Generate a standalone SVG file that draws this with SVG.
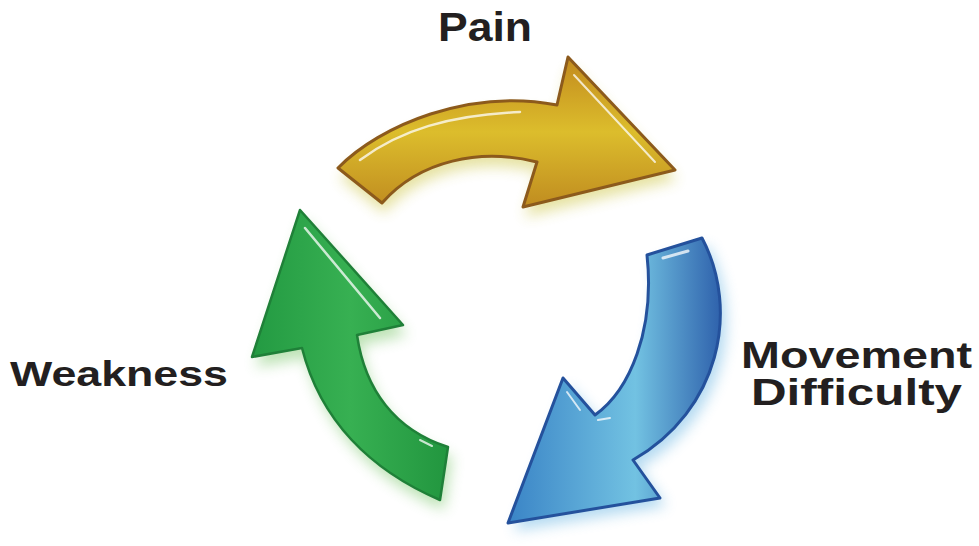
<svg xmlns="http://www.w3.org/2000/svg" width="979" height="546" viewBox="0 0 979 546">
  <style>
    .lbl { font-family: "Liberation Sans", Arial, sans-serif; font-weight: bold; fill: #231f20; }
    .hl { fill: none; stroke: #ffffff; stroke-linecap: round; stroke-opacity: 0.75; }
  </style>
  <defs>
    <filter id="glow" x="-30%" y="-30%" width="160%" height="160%">
      <feGaussianBlur stdDeviation="7"/>
    </filter>
    <linearGradient id="gY" x1="0" y1="0" x2="0" y2="1">
      <stop offset="0" stop-color="#c28a1e"/>
      <stop offset="0.5" stop-color="#dcbd2c"/>
      <stop offset="1" stop-color="#c08c20"/>
    </linearGradient>
    <linearGradient id="gB" x1="1" y1="0" x2="0" y2="0">
      <stop offset="0" stop-color="#2f62ac"/>
      <stop offset="0.4" stop-color="#72c2e2"/>
      <stop offset="1" stop-color="#3a84c6"/>
    </linearGradient>
    <linearGradient id="gG" x1="0" y1="0" x2="1" y2="0">
      <stop offset="0" stop-color="#239a42"/>
      <stop offset="0.5" stop-color="#37b052"/>
      <stop offset="1" stop-color="#22963f"/>
    </linearGradient>
  </defs>

  <g id="connectors">
    <g id="arrow-pain">
      <path d="M338,168 C380,125 470,88 557,105 L568,57 L675,170 L523,207 L537,162 C480,148 420,160 382,203 Z" fill="#c8c030" opacity="0.45" filter="url(#glow)" transform="translate(2,10)"/>
      <path d="M338,168 C380,125 470,88 557,105 L568,57 L675,170 L523,207 L537,162 C480,148 420,160 382,203 Z" fill="url(#gY)" stroke="#8c5a1c" stroke-width="3" stroke-linejoin="round"/>
      <path class="hl" d="M360,160 C400,130 450,115 520,112" stroke-width="2.5"/>
      <path class="hl" d="M574,75 L655,162" stroke-width="2"/>
    </g>
    <g id="arrow-movement">
      <path d="M702,238 C740,310 720,410 633,460 L660,498 L508,523 L563,378 L595,415 C630,390 655,330 647,255 Z" fill="#5aaee0" opacity="0.45" filter="url(#glow)" transform="translate(6,8)"/>
      <path d="M702,238 C740,310 720,410 633,460 L660,498 L508,523 L563,378 L595,415 C630,390 655,330 647,255 Z" fill="url(#gB)" stroke="#24519c" stroke-width="3" stroke-linejoin="round"/>
      <path class="hl" d="M663,258 L688,251" stroke-width="3"/>
      <path class="hl" d="M567,392 L580,410" stroke-width="2"/>
      <path class="hl" d="M598,420 L610,418" stroke-width="2"/>
    </g>
    <g id="arrow-weakness">
      <path d="M300,210 L403,325 L357,335 C365,390 395,430 448,447 L440,500 C370,470 320,420 302,348 L252,357 Z" fill="#6cc05a" opacity="0.45" filter="url(#glow)" transform="translate(4,10)"/>
      <path d="M300,210 L403,325 L357,335 C365,390 395,430 448,447 L440,500 C370,470 320,420 302,348 L252,357 Z" fill="url(#gG)" stroke="#1f8038" stroke-width="2.5" stroke-linejoin="round"/>
      <path class="hl" d="M305,228 L380,318" stroke-width="2.5"/>
      <path class="hl" d="M420,440 L432,446" stroke-width="2"/>
    </g>
  </g>

  <g id="node-pain">
    <text class="lbl" x="438" y="41" font-size="40" textLength="94" lengthAdjust="spacingAndGlyphs">Pain</text>
  </g>
  <g id="node-movement">
    <text class="lbl" x="741" y="368" font-size="36" textLength="231" lengthAdjust="spacingAndGlyphs">Movement</text>
    <text class="lbl" x="751" y="405" font-size="36" textLength="211" lengthAdjust="spacingAndGlyphs">Difficulty</text>
  </g>
  <g id="node-weakness">
    <text class="lbl" x="10" y="386" font-size="35" textLength="218" lengthAdjust="spacingAndGlyphs">Weakness</text>
  </g>
</svg>
